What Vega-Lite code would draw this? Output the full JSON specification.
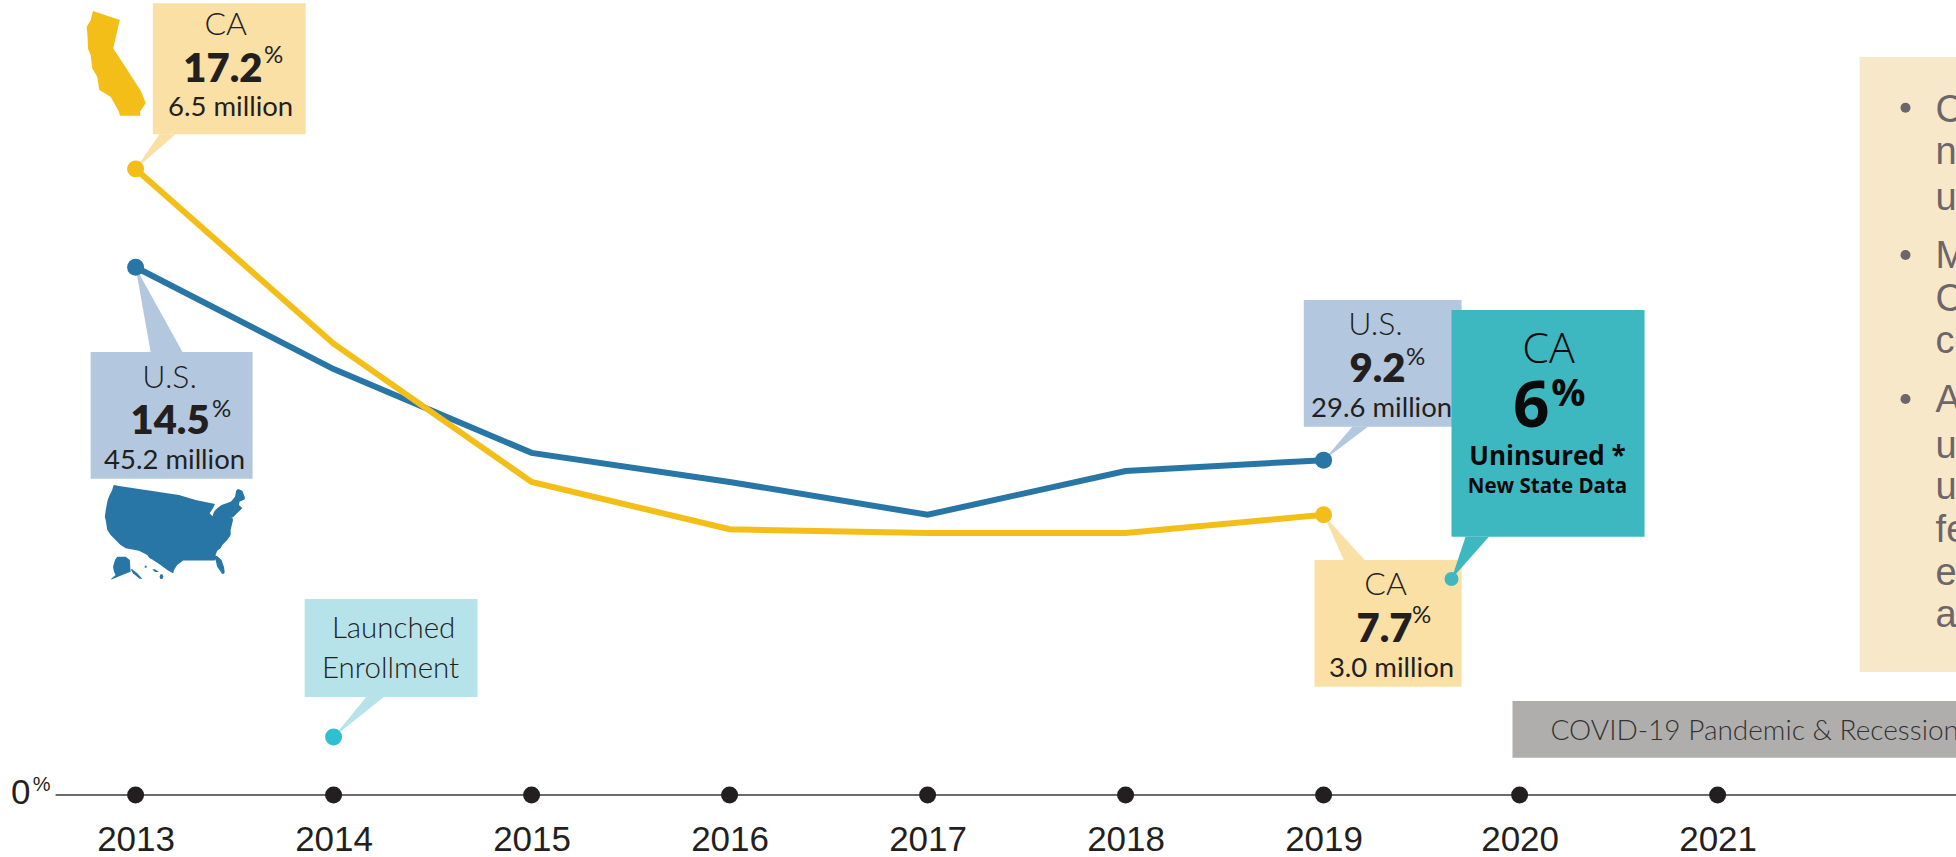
{
"$schema":"https://vega.github.io/schema/vega-lite/v6.json",
"width":1956,"height":857,"padding":0,"autosize":{"type":"none"},
"background":"white",
"config":{"view":{"stroke":null}},
"datasets":{
"series":[
{"key":"U.S.","year":2013,"pct":14.5},{"key":"U.S.","year":2014,"pct":11.7},{"key":"U.S.","year":2015,"pct":9.4},{"key":"U.S.","year":2016,"pct":8.6},{"key":"U.S.","year":2017,"pct":7.7},{"key":"U.S.","year":2018,"pct":8.9},{"key":"U.S.","year":2019,"pct":9.2},
{"key":"CA","year":2013,"pct":17.2},{"key":"CA","year":2014,"pct":12.4},{"key":"CA","year":2015,"pct":8.6},{"key":"CA","year":2016,"pct":7.3},{"key":"CA","year":2017,"pct":7.2},{"key":"CA","year":2018,"pct":7.2},{"key":"CA","year":2019,"pct":7.7}
],
"events":[
{"key":"Launch date","year":2014,"pct":1.593},
{"key":"New state data","year":2019.646,"pct":5.934}
],
"years":[{"year":2013,"pct":0},{"year":2014,"pct":0},{"year":2015,"pct":0},{"year":2016,"pct":0},{"year":2017,"pct":0},{"year":2018,"pct":0},{"year":2019,"pct":0},{"year":2019.99,"pct":0},{"year":2020.99,"pct":0}],
"baseline":[{"start":2012.596,"end":2022.197,"pct":0}],
"boxes":[
{"key":"Findings","west":2021.707,"east":2022.197,"low":3.379,"high":20.275},
{"key":"COVID","west":2019.954,"east":2022.197,"low":1.025,"high":2.582},
{"key":"CA callout","west":2013.087,"east":2013.859,"low":18.151,"high":21.75},
{"key":"U.S. callout","west":2012.773,"east":2013.591,"low":8.69,"high":12.171},
{"key":"U.S. callout","west":2018.9,"east":2019.697,"low":10.118,"high":13.599},
{"key":"CA callout","west":2018.954,"east":2019.697,"low":2.976,"high":6.456},
{"key":"Launched","west":2013.854,"east":2014.727,"low":2.692,"high":5.385},
{"key":"New state data","west":2019.646,"east":2020.621,"low":7.096,"high":13.324}
],
"pointers":[
{"key":"CA callout","part":"a","pct":17.2,"west":2013,"east":2013},{"key":"CA callout","part":"a","pct":18.151,"west":2013.121,"east":2013.202},
{"key":"U.S. callout","part":"b","pct":14.5,"west":2013,"east":2013},{"key":"U.S. callout","part":"b","pct":12.171,"west":2013.076,"east":2013.237},
{"key":"U.S. callout","part":"c","pct":9.2,"west":2019,"east":2019},{"key":"U.S. callout","part":"c","pct":10.118,"west":2019.145,"east":2019.224},
{"key":"CA callout","part":"d","pct":7.7,"west":2019,"east":2019},{"key":"CA callout","part":"d","pct":6.456,"west":2019.102,"east":2019.207},
{"key":"New state data","part":"e","pct":5.934,"west":2019.646,"east":2019.646},{"key":"New state data","part":"e","pct":7.096,"west":2019.717,"east":2019.835},
{"key":"Launched","part":"f","pct":1.593,"west":2014,"east":2014},{"key":"Launched","part":"f","pct":2.692,"west":2014.165,"east":2014.254}
],
"maps":[
{"key":"CA","part":"California","pct":21.539,"west":2012.785,"east":2012.785},
{"key":"CA","part":"California","pct":21.429,"west":2012.779,"east":2012.845},
{"key":"CA","part":"California","pct":21.291,"west":2012.774,"east":2012.921},
{"key":"CA","part":"California","pct":21.108,"west":2012.753,"east":2012.912},
{"key":"CA","part":"California","pct":20.788,"west":2012.758,"east":2012.899},
{"key":"CA","part":"California","pct":20.513,"west":2012.759,"east":2012.887},
{"key":"CA","part":"California","pct":20.33,"west":2012.773,"east":2012.909},
{"key":"CA","part":"California","pct":19.964,"west":2012.781,"east":2012.953},
{"key":"CA","part":"California","pct":19.735,"west":2012.806,"east":2012.98},
{"key":"CA","part":"California","pct":19.368,"west":2012.817,"east":2013.024},
{"key":"CA","part":"California","pct":19.185,"west":2012.874,"east":2013.039},
{"key":"CA","part":"California","pct":19.002,"west":2012.892,"east":2013.051},
{"key":"CA","part":"California","pct":18.773,"west":2012.916,"east":2013.022},
{"key":"CA","part":"California","pct":18.663,"west":2012.921,"east":2013.025},
{"key":"U.S.","part":"Lower 48","pct":8.517,"west":2012.891,"east":2012.891},
{"key":"U.S.","part":"Lower 48","pct":8.489,"west":2012.887,"east":2012.916},
{"key":"U.S.","part":"Lower 48","pct":8.379,"west":2012.882,"east":2013.051},
{"key":"U.S.","part":"Lower 48","pct":8.242,"west":2012.869,"east":2013.219},
{"key":"U.S.","part":"Lower 48","pct":8.105,"west":2012.859,"east":2013.303},
{"key":"U.S.","part":"Lower 48","pct":7.995,"west":2012.855,"east":2013.401},
{"key":"U.S.","part":"Lower 48","pct":7.876,"west":2012.851,"east":2013.391},
{"key":"U.S.","part":"Lower 48","pct":7.738,"west":2012.847,"east":2013.374},
{"key":"U.S.","part":"Lower 48","pct":7.665,"west":2012.845,"east":2013.387},
{"key":"U.S.","part":"Lower 48","pct":7.628,"west":2012.845,"east":2013.488},
{"key":"U.S.","part":"Lower 48","pct":7.555,"west":2012.849,"east":2013.492},
{"key":"U.S.","part":"Lower 48","pct":7.28,"west":2012.857,"east":2013.48},
{"key":"U.S.","part":"Lower 48","pct":7.143,"west":2012.874,"east":2013.48},
{"key":"U.S.","part":"Lower 48","pct":7.006,"west":2012.899,"east":2013.463},
{"key":"U.S.","part":"Lower 48","pct":6.868,"west":2012.924,"east":2013.438},
{"key":"U.S.","part":"Lower 48","pct":6.777,"west":2012.95,"east":2013.429},
{"key":"U.S.","part":"Lower 48","pct":6.713,"west":2013.017,"east":2013.412},
{"key":"U.S.","part":"Lower 48","pct":6.594,"west":2013.059,"east":2013.404},
{"key":"U.S.","part":"Lower 48","pct":6.529,"west":2013.067,"east":2013.407},
{"key":"U.S.","part":"Lower 48","pct":6.493,"west":2013.076,"east":2013.404},
{"key":"U.S.","part":"Texas","pct":6.529,"west":2013.067,"east":2013.303},
{"key":"U.S.","part":"Texas","pct":6.456,"west":2013.088,"east":2013.244},
{"key":"U.S.","part":"Texas","pct":6.319,"west":2013.126,"east":2013.21},
{"key":"U.S.","part":"Texas","pct":6.181,"west":2013.16,"east":2013.194},
{"key":"U.S.","part":"Texas","pct":6.09,"west":2013.189,"east":2013.19},
{"key":"U.S.","part":"Gulf coast","pct":6.529,"west":2013.2,"east":2013.404},
{"key":"U.S.","part":"Gulf coast","pct":6.44,"west":2013.244,"east":2013.4},
{"key":"U.S.","part":"Florida","pct":6.566,"west":2013.391,"east":2013.411},
{"key":"U.S.","part":"Florida","pct":6.456,"west":2013.404,"east":2013.434},
{"key":"U.S.","part":"Florida","pct":6.273,"west":2013.412,"east":2013.446},
{"key":"U.S.","part":"Florida","pct":6.136,"west":2013.43,"east":2013.45},
{"key":"U.S.","part":"Florida","pct":6.081,"west":2013.436,"east":2013.447},
{"key":"U.S.","part":"Northeast","pct":8.398,"west":2013.514,"east":2013.522},
{"key":"U.S.","part":"Northeast","pct":8.361,"west":2013.508,"east":2013.539},
{"key":"U.S.","part":"Northeast","pct":8.196,"west":2013.502,"east":2013.551},
{"key":"U.S.","part":"Northeast","pct":8.123,"west":2013.492,"east":2013.552},
{"key":"U.S.","part":"Northeast","pct":8.059,"west":2013.48,"east":2013.525},
{"key":"U.S.","part":"Northeast","pct":7.967,"west":2013.434,"east":2013.522},
{"key":"U.S.","part":"Northeast","pct":7.876,"west":2013.412,"east":2013.539},
{"key":"U.S.","part":"Northeast","pct":7.784,"west":2013.396,"east":2013.52},
{"key":"U.S.","part":"Northeast","pct":7.628,"west":2013.387,"east":2013.492},
{"key":"U.S.","part":"Alaska","pct":6.548,"west":2012.907,"east":2012.95},
{"key":"U.S.","part":"Alaska","pct":6.456,"west":2012.896,"east":2012.971},
{"key":"U.S.","part":"Alaska","pct":6.273,"west":2012.886,"east":2012.973},
{"key":"U.S.","part":"Alaska","pct":6.136,"west":2012.891,"east":2012.975},
{"key":"U.S.","part":"Alaska","pct":6.044,"west":2012.899,"east":2012.933},
{"key":"U.S.","part":"Alaska","pct":5.925,"west":2012.874,"east":2012.882},
{"key":"U.S.","part":"Panhandle","pct":6.2,"west":2012.975,"east":2012.983},
{"key":"U.S.","part":"Panhandle","pct":6.09,"west":2012.987,"east":2013.008},
{"key":"U.S.","part":"Panhandle","pct":5.943,"west":2013.02,"east":2013.034},
{"key":"U.S.","part":"Hawaii","pct":6.062,"west":2013.126,"east":2013.135},
{"key":"U.S.","part":"Hawaii","pct":5.998,"west":2013.121,"east":2013.141},
{"key":"U.S.","part":"Hawaii","pct":5.934,"west":2013.126,"east":2013.135},
{"key":"U.S.","part":"Kauai","pct":6.3,"west":2013.046,"east":2013.056},
{"key":"U.S.","part":"Kauai","pct":6.245,"west":2013.046,"east":2013.056},
{"key":"U.S.","part":"Maui","pct":6.2,"west":2013.084,"east":2013.098},
{"key":"U.S.","part":"Maui","pct":6.126,"west":2013.098,"east":2013.118}
],
"bullets":[{"year":2021.939,"pct":18.882},{"year":2021.939,"pct":14.835},{"year":2021.939,"pct":10.879}],
"labels":[
{"role":"head","label":"CA","year":2013.455,"pct":20.879},
{"role":"head","label":"U.S.","year":2013.172,"pct":11.181},
{"role":"head","label":"U.S.","year":2019.262,"pct":12.638},
{"role":"head","label":"CA","year":2019.313,"pct":5.495},
{"role":"value","label":"17.2","year":2013.641,"pct":19.588},
{"role":"value","label":"14.5","year":2013.374,"pct":9.918},
{"role":"value","label":"9.2","year":2019.414,"pct":11.346},
{"role":"value","label":"7.7","year":2019.449,"pct":4.203},
{"role":"sign","label":"%","year":2013.649,"pct":20.11},
{"role":"sign","label":"%","year":2013.386,"pct":10.385},
{"role":"sign","label":"%","year":2019.416,"pct":11.813},
{"role":"sign","label":"%","year":2019.446,"pct":4.725},
{"role":"count","label":"6.5 million","year":2013.48,"pct":18.654},
{"role":"count","label":"45.2 million","year":2013.197,"pct":8.956},
{"role":"count","label":"29.6 million","year":2019.293,"pct":10.385},
{"role":"count","label":"3.0 million","year":2019.343,"pct":3.242},
{"role":"note","label":"Launched","year":2014.303,"pct":4.313},
{"role":"note","label":"Enrollment","year":2014.288,"pct":3.214},
{"role":"covid","label":"COVID-19 Pandemic & Recession","year":2020.146,"pct":1.511},
{"role":"tealHead","label":"CA","year":2020.136,"pct":11.868},
{"role":"tealValue","label":"6","year":2020.141,"pct":10.11},
{"role":"tealSign","label":"%","year":2020.15,"pct":10.687},
{"role":"tealUninsured","label":"Uninsured *","year":2020.131,"pct":9.066},
{"role":"tealState","label":"New State Data","year":2020.131,"pct":8.297},
{"role":"zeroSign","label":"%","year":2012.48,"pct":0.11},
{"role":"panel","label":"C","year":2022.091,"pct":18.489},
{"role":"panel","label":"n","year":2022.091,"pct":17.335},
{"role":"panel","label":"u","year":2022.091,"pct":16.072},
{"role":"panel","label":"M","year":2022.091,"pct":14.478},
{"role":"panel","label":"C","year":2022.091,"pct":13.297},
{"role":"panel","label":"co","year":2022.091,"pct":12.143},
{"role":"panel","label":"A","year":2022.091,"pct":10.522},
{"role":"panel","label":"u","year":2022.091,"pct":9.258},
{"role":"panel","label":"u","year":2022.091,"pct":8.132},
{"role":"panel","label":"fe","year":2022.091,"pct":6.951},
{"role":"panel","label":"e","year":2022.091,"pct":5.769},
{"role":"panel","label":"a","year":2022.091,"pct":4.615}
]
},
"layer":[
{"data":{"name":"boxes"},"mark":{"type":"rect"},
"encoding":{
"x":{"field":"west","type":"quantitative","scale":{"domain":[2012.3152,2022.194],"nice":false,"zero":false},
"axis":{"values":[2013,2014,2015,2016,2017,2018,2019,2019.99,2020.99],"format":"d","domain":false,"ticks":false,"grid":false,"title":null,"offset":-62,"labelFontSize":35,"labelFont":"Liberation Sans","labelColor":"#231F20","labelPadding":27,"labelOverlap":false,"labelFlush":false}},
"x2":{"field":"east"},
"y":{"field":"low","type":"quantitative","scale":{"domain":[-1.703,21.841],"nice":false,"zero":false},
"axis":{"values":[0],"domain":false,"ticks":false,"grid":false,"title":null,"offset":-32,"labelFontSize":35,"labelFont":"Liberation Sans","labelColor":"#231F20","labelPadding":2,"labelOffset":-3}},
"y2":{"field":"high"},
"color":{"field":"key","type":"nominal","legend":null,"scale":{"domain":["U.S.","CA","U.S. callout","CA callout","New state data","Launched","Launch date","COVID","Findings"],"range":["#2776A5","#F4BE18","#B3C7DF","#FAE0A5","#3DB7C0","#B6E2E9","#2EC0D0","#AFAEAC","#F7E8C9"]}}
}},
{"data":{"name":"pointers"},"mark":{"type":"area","orient":"horizontal","opacity":1},
"encoding":{
"y":{"field":"pct","type":"quantitative"},
"x":{"field":"west","type":"quantitative","stack":null},
"x2":{"field":"east"},
"detail":{"field":"part"},
"color":{"field":"key","type":"nominal","legend":null}
}},
{"data":{"name":"maps"},"mark":{"type":"area","orient":"horizontal","opacity":1},
"encoding":{
"y":{"field":"pct","type":"quantitative"},
"x":{"field":"west","type":"quantitative","stack":null},
"x2":{"field":"east"},
"detail":{"field":"part"},
"color":{"field":"key","type":"nominal","legend":null}
}},
{"data":{"name":"baseline"},"mark":{"type":"rule","color":"#3A3A3A","strokeWidth":1.5},
"encoding":{"x":{"field":"start","type":"quantitative"},"x2":{"field":"end"},"y":{"field":"pct","type":"quantitative"}}},
{"data":{"name":"series"},"mark":{"type":"line","strokeWidth":6},
"encoding":{"x":{"field":"year","type":"quantitative"},"y":{"field":"pct","type":"quantitative"},"color":{"field":"key","type":"nominal","legend":null}}},
{"data":{"name":"series"},"transform":[{"filter":"datum.year==2013||datum.year==2019"}],"mark":{"type":"circle","size":289,"opacity":1},
"encoding":{"x":{"field":"year","type":"quantitative"},"y":{"field":"pct","type":"quantitative"},"color":{"field":"key","type":"nominal","legend":null}}},
{"data":{"name":"years"},"mark":{"type":"circle","size":289,"opacity":1,"color":"#231F20"},
"encoding":{"x":{"field":"year","type":"quantitative"},"y":{"field":"pct","type":"quantitative"}}},
{"data":{"name":"events"},"transform":[{"filter":"datum.key=='Launch date'"}],"mark":{"type":"circle","size":289,"opacity":1},
"encoding":{"x":{"field":"year","type":"quantitative"},"y":{"field":"pct","type":"quantitative"},"color":{"field":"key","type":"nominal","legend":null}}},
{"data":{"name":"events"},"transform":[{"filter":"datum.key=='New state data'"}],"mark":{"type":"circle","size":196,"opacity":1},
"encoding":{"x":{"field":"year","type":"quantitative"},"y":{"field":"pct","type":"quantitative"},"color":{"field":"key","type":"nominal","legend":null}}},
{"data":{"name":"bullets"},"mark":{"type":"circle","size":100,"opacity":1,"color":"#6B666A"},
"encoding":{"x":{"field":"year","type":"quantitative"},"y":{"field":"pct","type":"quantitative"}}},
{"data":{"name":"labels"},"transform":[{"filter":"datum.role=='head'"}],"mark":{"type":"text","font":"Lato","fontWeight":300,"fontSize":32,"align":"center","baseline":"alphabetic","color":"#231F20"},
"encoding":{"x":{"field":"year","type":"quantitative"},"y":{"field":"pct","type":"quantitative"},"text":{"field":"label"}}},
{"data":{"name":"labels"},"transform":[{"filter":"datum.role=='value'"}],"mark":{"type":"text","font":"Lato","fontWeight":800,"fontSize":40,"align":"right","baseline":"alphabetic","color":"#231F20"},
"encoding":{"x":{"field":"year","type":"quantitative"},"y":{"field":"pct","type":"quantitative"},"text":{"field":"label"}}},
{"data":{"name":"labels"},"transform":[{"filter":"datum.role=='sign'"}],"mark":{"type":"text","font":"Lato","fontWeight":400,"fontSize":24,"align":"left","baseline":"alphabetic","color":"#231F20"},
"encoding":{"x":{"field":"year","type":"quantitative"},"y":{"field":"pct","type":"quantitative"},"text":{"field":"label"}}},
{"data":{"name":"labels"},"transform":[{"filter":"datum.role=='count'"}],"mark":{"type":"text","font":"Lato","fontWeight":400,"fontSize":27.5,"align":"center","baseline":"alphabetic","color":"#231F20"},
"encoding":{"x":{"field":"year","type":"quantitative"},"y":{"field":"pct","type":"quantitative"},"text":{"field":"label"}}},
{"data":{"name":"labels"},"transform":[{"filter":"datum.role=='note'"}],"mark":{"type":"text","font":"Lato","fontWeight":300,"fontSize":29.5,"align":"center","baseline":"alphabetic","color":"#231F20"},
"encoding":{"x":{"field":"year","type":"quantitative"},"y":{"field":"pct","type":"quantitative"},"text":{"field":"label"}}},
{"data":{"name":"labels"},"transform":[{"filter":"datum.role=='covid'"}],"mark":{"type":"text","font":"Lato","fontWeight":300,"fontSize":28,"align":"left","baseline":"alphabetic","color":"#333333"},
"encoding":{"x":{"field":"year","type":"quantitative"},"y":{"field":"pct","type":"quantitative"},"text":{"field":"label"}}},
{"data":{"name":"labels"},"transform":[{"filter":"datum.role=='tealHead'"}],"mark":{"type":"text","font":"Open Sans","fontWeight":300,"fontSize":43,"align":"center","baseline":"alphabetic","color":"#0A0A0A"},
"encoding":{"x":{"field":"year","type":"quantitative"},"y":{"field":"pct","type":"quantitative"},"text":{"field":"label"}}},
{"data":{"name":"labels"},"transform":[{"filter":"datum.role=='tealValue'"}],"mark":{"type":"text","font":"Open Sans","fontWeight":700,"fontSize":64,"align":"right","baseline":"alphabetic","color":"#0A0A0A"},
"encoding":{"x":{"field":"year","type":"quantitative"},"y":{"field":"pct","type":"quantitative"},"text":{"field":"label"}}},
{"data":{"name":"labels"},"transform":[{"filter":"datum.role=='tealSign'"}],"mark":{"type":"text","font":"Open Sans","fontWeight":700,"fontSize":38,"align":"left","baseline":"alphabetic","color":"#0A0A0A"},
"encoding":{"x":{"field":"year","type":"quantitative"},"y":{"field":"pct","type":"quantitative"},"text":{"field":"label"}}},
{"data":{"name":"labels"},"transform":[{"filter":"datum.role=='tealUninsured'"}],"mark":{"type":"text","font":"Open Sans","fontWeight":700,"fontSize":26,"align":"center","baseline":"alphabetic","color":"#0A0A0A"},
"encoding":{"x":{"field":"year","type":"quantitative"},"y":{"field":"pct","type":"quantitative"},"text":{"field":"label"}}},
{"data":{"name":"labels"},"transform":[{"filter":"datum.role=='tealState'"}],"mark":{"type":"text","font":"Open Sans","fontWeight":700,"fontSize":20.5,"align":"center","baseline":"alphabetic","color":"#0A0A0A"},
"encoding":{"x":{"field":"year","type":"quantitative"},"y":{"field":"pct","type":"quantitative"},"text":{"field":"label"}}},
{"data":{"name":"labels"},"transform":[{"filter":"datum.role=='zeroSign'"}],"mark":{"type":"text","font":"Liberation Sans","fontSize":20,"align":"left","baseline":"alphabetic","color":"#231F20"},
"encoding":{"x":{"field":"year","type":"quantitative"},"y":{"field":"pct","type":"quantitative"},"text":{"field":"label"}}},
{"data":{"name":"labels"},"transform":[{"filter":"datum.role=='panel'"}],"mark":{"type":"text","font":"Liberation Sans","fontSize":38,"align":"left","baseline":"alphabetic","color":"#6B666A"},
"encoding":{"x":{"field":"year","type":"quantitative"},"y":{"field":"pct","type":"quantitative"},"text":{"field":"label"}}}
]
}
